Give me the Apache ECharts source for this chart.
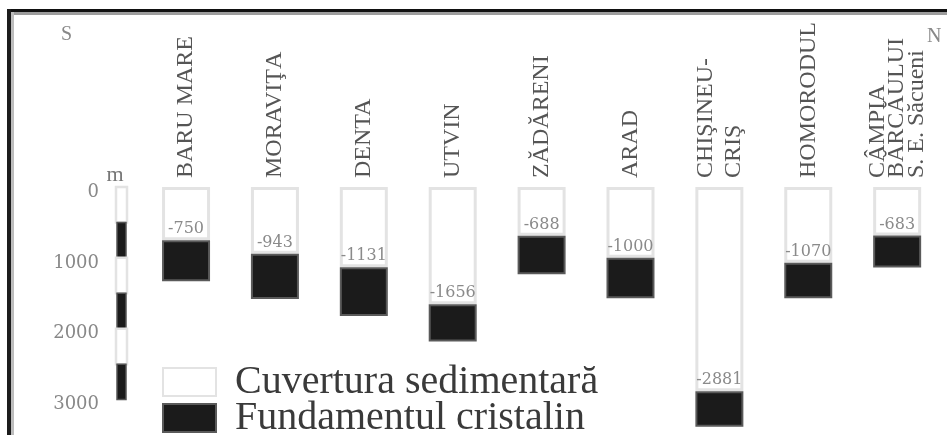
<!DOCTYPE html>
<html>
<head>
<meta charset="utf-8">
<script src="https://cdn.jsdelivr.net/npm/echarts@6/dist/echarts.min.js"></script>
<style>
html,body{margin:0;padding:0;background:#fff;}
#c{width:947px;height:435px;}
</style>
</head>
<body>
<div id="c"></div>
<script>
// ---- data ----
const wells = ['BARU MARE','MORAVIŢA','DENTA','UTVIN','ZĂDĂRENI','ARAD','CHIŞINEU-\nCRIŞ','HOMORODUL','CÂMPIA\nBĂRCĂULUI\nS. E. Săcueni'];
const basementTop = [750, 943, 1131, 1656, 688, 1000, 2881, 1070, 683];      // depth of crystalline basement (m)
const wellBottom  = [1330, 1580, 1820, 2180, 1230, 1570, 3385, 1570, 1135];  // bottom of drawn basement block (m)
const depthTicks = [0, 1000, 2000, 3000];
const scaleSegments = [[0,500],[500,1000],[1000,1500],[1500,2000],[2000,2500],[2500,3000]];
const seriesNames = ['Cuvertura sedimentară', 'Fundamentul cristalin'];

const basementThickness = wellBottom.map((b, i) => b - basementTop[i]);
const serif = 'Liberation Serif';
const numFont = 'DejaVu Serif';

const chart = echarts.init(document.getElementById('c'), null, {renderer: 'canvas'});
const option = {
  animation: false,
  backgroundColor: '#fff',
  grid: [
    {left: 141.6, width: 800, top: 187, height: 250},
    {left: 115, width: 13, top: 187, height: 250}
  ],
  xAxis: [
    {
      gridIndex: 0, type: 'category', position: 'top',
      data: wells.map((w, i) => i === 6 ? {value: w, textStyle: {lineHeight: 28}} : w),
      axisLine: {show: false}, axisTick: {show: false}, splitLine: {show: false},
      axisLabel: {
        rotate: 90, margin: 9, interval: 0,
        fontFamily: serif, fontSize: 24, color: '#555', lineHeight: 19.5
      }
    },
    {gridIndex: 1, type: 'category', data: ['scale'], show: false}
  ],
  yAxis: [
    {gridIndex: 0, type: 'value', inverse: true, min: 0, max: 3500, show: false},
    {
      gridIndex: 1, type: 'value', inverse: true, min: 0, max: 3500, interval: 1000,
      name: 'm', nameLocation: 'start', nameGap: 1,
      nameTextStyle: {fontFamily: serif, fontSize: 22, color: '#777', align: 'center'},
      axisLine: {show: false}, axisTick: {show: false}, splitLine: {show: false},
      axisLabel: {
        margin: 16, fontFamily: numFont, fontSize: 18, color: '#888',
        verticalAlign: 'top', lineHeight: 10,
        showMaxLabel: false,
        formatter: v => depthTicks.indexOf(v) >= 0 ? String(v) : ''
      }
    }
  ],
  legend: {
    orient: 'vertical', left: 162, top: 362, height: 120, padding: 0,
    itemWidth: 53, itemHeight: 28, itemGap: -4,
    selectedMode: false,
    icon: 'rect',
    data: seriesNames,
    textStyle: {fontFamily: serif, fontSize: 40, color: '#3a3a3a', lineHeight: 30, padding: [0, 0, 0, 14]}
  },
  series: [
    {
      name: seriesNames[0], type: 'bar', stack: 'well', barWidth: 48,
      xAxisIndex: 0, yAxisIndex: 0,
      data: basementTop,
      itemStyle: {color: '#ffffff', borderColor: '#e3e3e3', borderWidth: 3},
      label: {
        show: true, position: 'insideBottom', distance: 3,
        fontFamily: numFont, fontSize: 16, color: '#8a8a8a',
        formatter: p => '-' + p.value
      }
    },
    {
      name: seriesNames[1], type: 'bar', stack: 'well', barWidth: 48,
      xAxisIndex: 0, yAxisIndex: 0,
      data: basementThickness,
      itemStyle: {color: '#1b1b1b', borderColor: '#5a5a5a', borderWidth: 2}
    },
    {
      type: 'custom', xAxisIndex: 1, yAxisIndex: 1,
      data: scaleSegments,
      renderItem: function (params, api) {
        const p0 = api.coord([0, api.value(0)]);
        const p1 = api.coord([0, api.value(1)]);
        const cs = params.coordSys;
        const dark = params.dataIndex % 2 === 1;
        if (dark) {
          return {type: 'rect', shape: {x: cs.x + 2, y: p0[1], width: cs.width - 4, height: p1[1] - p0[1]},
                  style: {fill: '#1b1b1b', stroke: '#555', lineWidth: 1.5}};
        }
        return {type: 'rect', shape: {x: cs.x + 1, y: p0[1], width: cs.width - 2, height: p1[1] - p0[1]},
                style: {fill: '#fff', stroke: '#e3e3e3', lineWidth: 2.5}};
      }
    }
  ],
  graphic: [
    {type: 'rect', left: 7, top: 9, shape: {width: 940, height: 3}, style: {fill: '#111'}},
    {type: 'rect', left: 11, top: 12, shape: {width: 936, height: 3}, style: {fill: '#9c9c9c'}},
    {type: 'rect', left: 7, top: 9, shape: {width: 4, height: 426}, style: {fill: '#1c1c1c'}},
    {type: 'rect', left: 11, top: 12, shape: {width: 3, height: 423}, style: {fill: '#bdbdbd'}},
    {type: 'text', left: 61, top: 25, style: {text: 'S', font: '20px "Liberation Serif"', fill: '#888'}},
    {type: 'text', left: 927, top: 27, style: {text: 'N', font: '20px "Liberation Serif"', fill: '#888'}}
  ]
};
chart.setOption(option);
</script>
</body>
</html>
